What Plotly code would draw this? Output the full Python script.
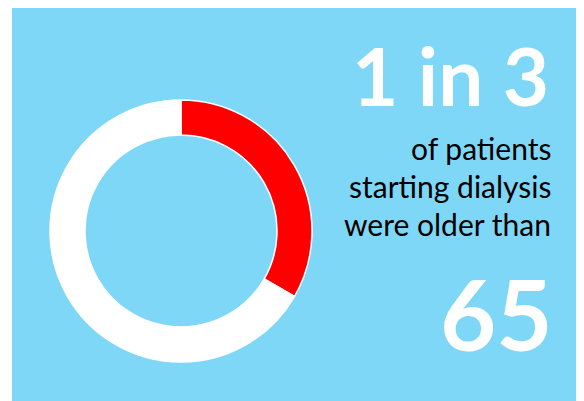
import plotly.graph_objects as go

labels = ["Older than 65", "Other"]
values = [1, 2]
colors = ["#FF0000", "#FFFFFF"]
headline = "1 in 3"
caption_lines = ["of patients", "starting dialysis", "were older than"]
age = "65"

W, H = 584, 401
OFF = 8  # page body margin
FONT = "Lato"

def fx(px):
    return (px - OFF) / W

def fy(py):
    return (H - (py - OFF)) / H

fig = go.Figure(go.Pie(
    labels=labels, values=values, sort=False, direction="clockwise", rotation=0,
    hole=0.733, marker=dict(colors=colors, line=dict(color="#FFFFFF", width=1.5)),
    textinfo="none", hoverinfo="label+percent", showlegend=False,
    domain=dict(x=[fx(50), fx(312)], y=[fy(362), fy(100)]),
))

fig.add_shape(type="rect", xref="paper", yref="paper",
              x0=fx(12), x1=1, y0=0, y1=1,
              fillcolor="#7FD7F7", line=dict(width=0), layer="below")

fig.add_annotation(text="<b>" + headline + "</b>", x=fx(551), y=fy(75), xref="paper", yref="paper",
                   xanchor="right", yanchor="middle", showarrow=False,
                   font=dict(family=FONT, size=80, color="#FFFFFF"))
for i, line in enumerate(caption_lines):
    fig.add_annotation(text=line, x=fx(553), y=fy(148 + 38 * i), xref="paper", yref="paper",
                       xanchor="right", yanchor="middle", showarrow=False,
                       font=dict(family=FONT, size=30, color="#000000"))
fig.add_annotation(text="<b>" + age + "</b>", x=fx(555), y=fy(313), xref="paper", yref="paper",
                   xanchor="right", yanchor="middle", showarrow=False,
                   font=dict(family=FONT, size=97, color="#FFFFFF"))

fig.update_layout(width=W, height=H, margin=dict(l=0, r=0, t=0, b=0),
                  paper_bgcolor="#FFFFFF", plot_bgcolor="rgba(0,0,0,0)")
fig.write_html("out.html")
